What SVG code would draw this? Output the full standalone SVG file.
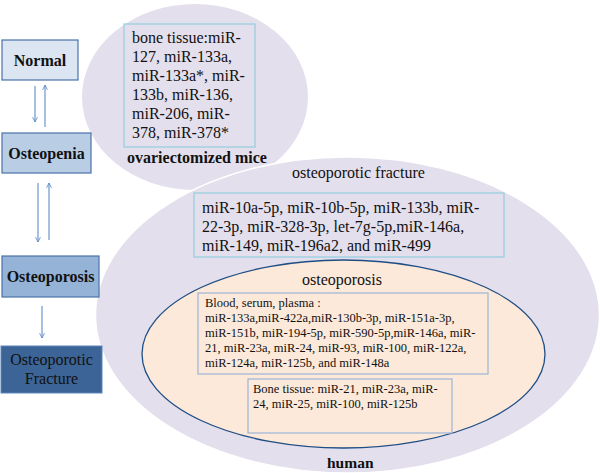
<svg xmlns="http://www.w3.org/2000/svg" width="600" height="473" viewBox="0 0 600 473">
<defs>
<style>
text{font-family:'Liberation Serif','Times New Roman',Tinos,'DejaVu Serif',serif;fill:#111}
.b{font-weight:bold}
.lav{fill:#e4dfec}
.tb{fill:none;stroke:#93cddd;stroke-width:1.2}
.ib{fill:none;stroke:#9bb5d6;stroke-width:1.2}
.ar{stroke:#5b8cc8;stroke-width:1.1;fill:none;marker-end:url(#ah)}
</style>
<marker id="ah" viewBox="0 0 10 10" refX="9" refY="5" markerWidth="6" markerHeight="6" orient="auto" markerUnits="userSpaceOnUse">
<path d="M1,1 L9,5 L1,9" fill="none" stroke="#5b8cc8" stroke-width="1.4"/>
</marker>
</defs>
<rect width="600" height="473" fill="#fff"/>

<g id="mice" font-family="Liberation Serif, serif">
<ellipse class="lav" cx="195" cy="97" rx="113" ry="93"/>
<rect class="tb" x="124" y="24" width="131" height="123"/>
<text font-size="16" x="132" y="43">bone tissue:miR-</text>
<text font-size="16" x="132" y="62">127, miR-133a,</text>
<text font-size="16" x="132" y="81">miR-133a*, miR-</text>
<text font-size="16" x="132" y="100">133b, miR-136,</text>
<text font-size="16" x="132" y="119">miR-206, miR-</text>
<text font-size="16" x="132" y="138">378, miR-378*</text>
<text class="b" font-size="16" x="127" y="163">ovariectomized mice</text>
</g>

<g id="human" font-family="Liberation Serif, serif">
<ellipse class="lav" cx="347.5" cy="315" rx="252" ry="158" stroke="#fff" stroke-width="1.5"/>
<text font-size="16" x="292" y="178">osteoporotic fracture</text>
<rect class="tb" x="194" y="193" width="310" height="64"/>
<text font-size="16" x="202" y="213">miR-10a-5p, miR-10b-5p, miR-133b, miR-</text>
<text font-size="16" x="202" y="232">22-3p, miR-328-3p, let-7g-5p,miR-146a,</text>
<text font-size="16" x="202" y="251">miR-149, miR-196a2, and miR-499</text>
<text class="b" font-size="15.5" x="327" y="468">human</text>
</g>

<g id="osteoporosis-set" font-family="Liberation Serif, serif">
<ellipse cx="343.5" cy="354" rx="201.5" ry="94" fill="#fde9d9" stroke="#1f4e85" stroke-width="1.3"/>
<text font-size="16" x="302" y="285">osteoporosis</text>
<rect class="ib" x="198" y="293" width="290" height="81"/>
<text font-size="12.5" x="205" y="307">Blood, serum, plasma :</text>
<text font-size="12.5" x="205" y="322">miR-133a,miR-422a,miR-130b-3p, miR-151a-3p,</text>
<text font-size="12.5" x="205" y="337">miR-151b, miR-194-5p, miR-590-5p,miR-146a, miR-</text>
<text font-size="12.5" x="205" y="352">21, miR-23a, miR-24, miR-93, miR-100, miR-122a,</text>
<text font-size="12.5" x="205" y="367">miR-124a, miR-125b, and miR-148a</text>
<rect class="ib" x="248" y="379" width="204" height="54"/>
<text font-size="12.5" x="253" y="393">Bone tissue: miR-21, miR-23a, miR-</text>
<text font-size="12.5" x="253" y="408">24, miR-25, miR-100, miR-125b</text>
</g>

<g id="normal" font-family="Liberation Serif, serif">
<rect x="2" y="40" width="76" height="40" fill="#dce6f2" stroke="#4a72a8" stroke-width="1.2"/>
<text class="b" font-size="16" x="40" y="66" text-anchor="middle">Normal</text>
</g>
<g id="osteopenia" font-family="Liberation Serif, serif">
<rect x="2" y="133" width="89" height="40" fill="#b9cde5" stroke="#4a72a8" stroke-width="1.2"/>
<text class="b" font-size="16" x="46.5" y="159" text-anchor="middle">Osteopenia</text>
</g>
<g id="osteoporosis" font-family="Liberation Serif, serif">
<rect x="2" y="256" width="97" height="41" fill="#95b3d7" stroke="#4a72a8" stroke-width="1.2"/>
<text class="b" font-size="16" x="50.5" y="282" text-anchor="middle">Osteoporosis</text>
</g>
<g id="fracture" font-family="Liberation Serif, serif">
<rect x="1" y="346" width="101" height="47" fill="#3d6496" stroke="#5b85bb" stroke-width="1"/>
<text font-size="16" x="51.5" y="365" text-anchor="middle">Osteoporotic</text>
<text font-size="16" x="51.5" y="384" text-anchor="middle">Fracture</text>
</g>

<g id="connectors">
<line class="ar" x1="35" y1="86" x2="35" y2="122"/>
<line class="ar" x1="45" y1="127" x2="45" y2="85"/>
<line class="ar" x1="38" y1="183" x2="38" y2="242"/>
<line class="ar" x1="49" y1="240" x2="49" y2="183"/>
<line class="ar" x1="42" y1="306" x2="42" y2="338"/>
</g>
</svg>
